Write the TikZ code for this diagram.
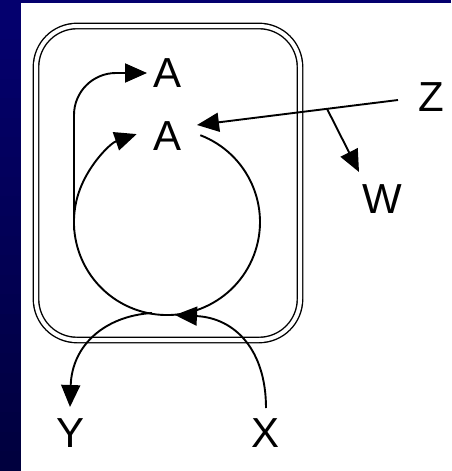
\documentclass[tikz,border=0pt]{standalone}
\usepackage{fontspec}
\setmainfont{Liberation Sans}
\usetikzlibrary{arrows.meta,calc}
\definecolor{navytop}{RGB}{4,0,110}
\definecolor{navybot}{RGB}{0,0,62}
\begin{document}
\begin{tikzpicture}[x=1pt,y=-1pt,
  lbl/.style={inner sep=0pt, text height=30pt, text depth=0pt, font=\fontsize{42}{42}\selectfont},
  conn/.style={line width=1.9pt, -{Triangle[length=22pt,width=19pt]}},
  box/.style={line width=1.4pt, double, double distance=4pt, rounded corners=41pt}]
\useasboundingbox (0,0) rectangle (451,471);
\fill[white] (0,0) rectangle (451,471);
\foreach \i in {0,...,23}{
  \pgfmathsetmacro{\p}{100-\i*100/23}
  \fill[navytop!\p!navybot] (0,{\i*471/24}) rectangle (21,{(\i+1)*471/24+0.5});
}
\fill[navytop] (0,0) rectangle (451,3);
% labels
\node[lbl] (A1) at (167.5,72) {A};
\node[lbl] (A2) at (167.5,135) {A};
\node[lbl] (Z) at (431,96) {Z};
\node[lbl] (W) at (382,198) {W};
\node[lbl] (Y) at (71,432) {Y};
\node[lbl] (X) at (266,432) {X};
% box
\draw[box] (36,26) rectangle (300,340);
% connector end points
\coordinate (cstart) at (200.3,135.2);
\coordinate (loopstart) at (74,230);
\coordinate (a1in) at (147,73);
\coordinate (zs) at (398,100);
\coordinate (a2in) at (197,125);
\coordinate (br) at ($(zs)!0.353!(a2in)$);
\coordinate (win) at (359,172);
\coordinate (xs) at (266,408);
\coordinate (xin) at (175,315);
\coordinate (ys) at (152,313);
\coordinate (yin) at (70,407);
% cycle
\draw[conn] (cstart) arc[start angle=-69, end angle=251, radius=93];
\draw[conn, rounded corners=42pt] (loopstart) |- (a1in);
\draw[conn] (zs) -- (a2in);
\draw[conn] (br) -- (win);
\draw[conn] (xs) .. controls (266,350) and (235,318) .. (xin);
\draw[conn] (ys) .. controls (105,316) and (72,345) .. (yin);
\end{tikzpicture}
\end{document}
